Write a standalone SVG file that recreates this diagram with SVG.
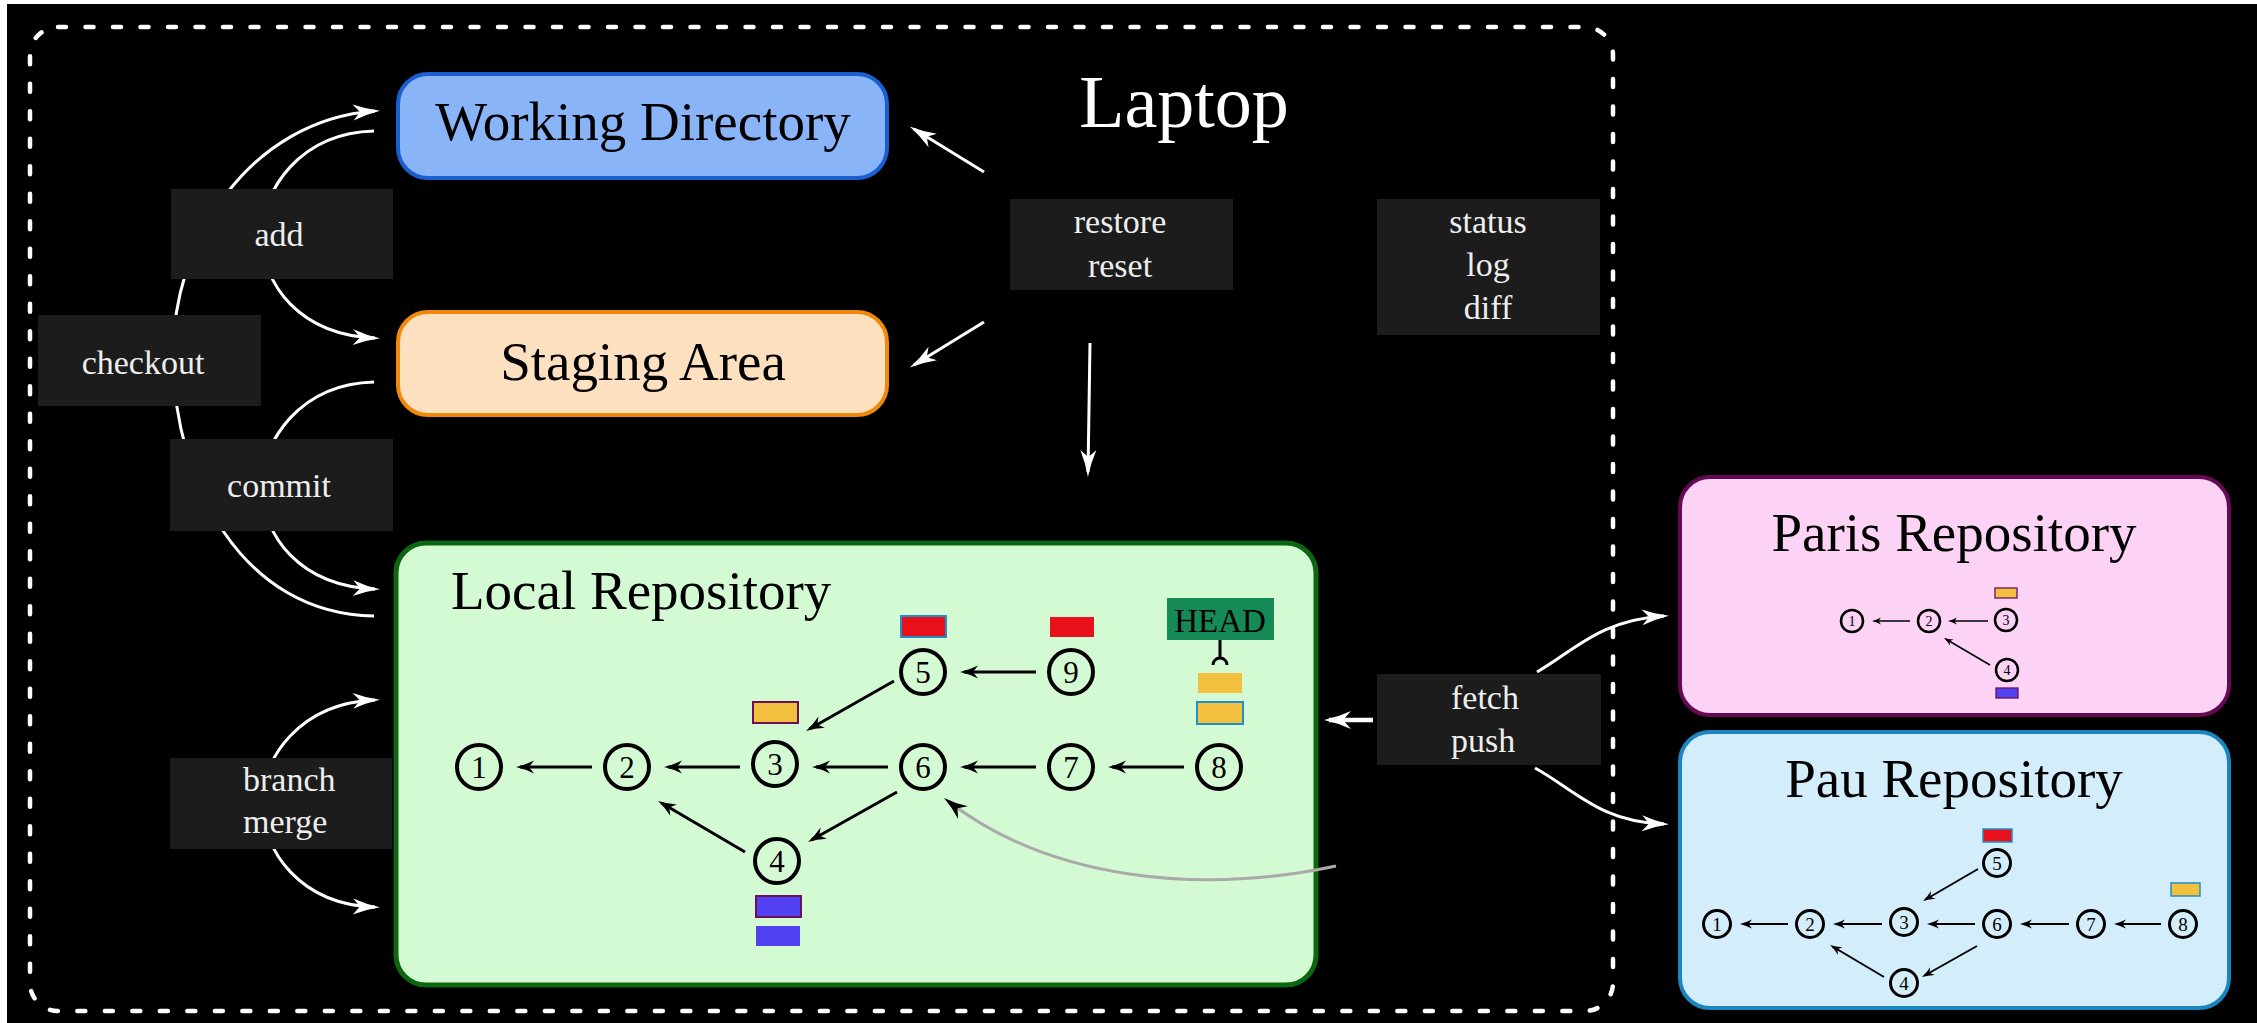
<svg xmlns="http://www.w3.org/2000/svg" width="2257" height="1023" viewBox="0 0 2257 1023">
<style>
.title{font-family:"Liberation Serif","Times New Roman",serif;fill:#000;text-anchor:middle}
.lbl{font-family:"Liberation Serif","Times New Roman",serif;font-size:34px;fill:#eeeeee}
.lblbox{fill:#1c1c1c}
.wl{fill:none;stroke:#fff;stroke-width:3}
.bl{fill:none;stroke:#000;stroke-width:3}
.nd{fill:none;stroke:#000;stroke-width:4}
.ndp{fill:none;stroke:#000;stroke-width:2.5}
.ndu{fill:none;stroke:#000;stroke-width:3}
.dg{font-family:"Liberation Serif","Times New Roman",serif;fill:#000;text-anchor:middle}
.red{fill:#e8101a}
.yel{fill:#f2bf3f}
.blu{fill:#5141f0}
.bpau{stroke:#1e8fc8;stroke-width:2}
.bpar{stroke:#6b0f5a;stroke-width:2}
</style>
<defs>
<marker id="aw" markerUnits="userSpaceOnUse" viewBox="-30 -10 32 20" refX="-5" refY="0" markerWidth="32" markerHeight="20" orient="auto-start-reverse">
<path d="M0,0 Q-14,-2.5 -27,-8 L-20,0 L-27,8 Q-14,2.5 0,0Z" fill="#fff"/>
</marker>
<marker id="awb" markerUnits="userSpaceOnUse" viewBox="-30 -10 32 20" refX="-5" refY="0" markerWidth="32" markerHeight="20" orient="auto">
<path d="M0,0 Q-14,-3 -27,-9 L-19,0 L-27,9 Q-14,3 0,0Z" fill="#fff"/>
</marker>
<marker id="ab" markerUnits="userSpaceOnUse" viewBox="-22 -8 24 16" refX="-4" refY="0" markerWidth="24" markerHeight="16" orient="auto">
<path d="M0,0 Q-9,-2 -18,-6.5 L-13,0 L-18,6.5 Q-9,2 0,0Z" fill="#000"/>
</marker>
<marker id="ag" markerUnits="userSpaceOnUse" viewBox="-28 -10 30 20" refX="-5" refY="0" markerWidth="30" markerHeight="20" orient="auto">
<path d="M0,0 Q-12,-2.5 -24,-8 L-17,0 L-24,8 Q-12,2.5 0,0Z" fill="#000"/>
</marker>
<marker id="ap" markerUnits="userSpaceOnUse" viewBox="-12 -5 14 10" refX="-2" refY="0" markerWidth="14" markerHeight="10" orient="auto">
<path d="M0,0 Q-4.5,-1 -9,-3.5 L-6.5,0 L-9,3.5 Q-4.5,1 0,0Z" fill="#000"/>
</marker>
<marker id="au" markerUnits="userSpaceOnUse" viewBox="-15 -6 17 12" refX="-3" refY="0" markerWidth="17" markerHeight="12" orient="auto">
<path d="M0,0 Q-6,-1.5 -12,-4.5 L-8.5,0 L-12,4.5 Q-6,1.5 0,0Z" fill="#000"/>
</marker>
</defs>

<rect x="0" y="0" width="2257" height="1023" fill="#fff"/>
<rect x="7" y="4" width="2250" height="1019" fill="#000"/>

<g id="laptop">
<rect x="30" y="27" width="1583" height="984" rx="28" fill="none" stroke="#fff" stroke-width="4.5" stroke-dasharray="8 19.5" stroke-linecap="round"/>
<text x="1184" y="127" class="title" style="fill:#fff;font-size:74px">Laptop</text>
</g>

<g id="connectors">
<path class="wl" d="M374,616 C240,614 175,480 173,360 C171,240 250,120 375,111" marker-end="url(#aw)"/>
<path class="wl" d="M374,131 C300,133 262,190 262,235 C262,285 300,335 375,338" marker-end="url(#aw)"/>
<path class="wl" d="M374,382 C300,384 262,441 262,486 C262,536 300,586 375,589" marker-end="url(#aw)"/>
<path class="wl" d="M375,700 C300,703 262,758 262,803 C262,850 300,905 375,907" marker-start="url(#aw)" marker-end="url(#aw)"/>
<path class="wl" d="M984,172 L914,129" marker-end="url(#aw)"/>
<path class="wl" d="M984,322 L914,365" marker-end="url(#aw)"/>
<path class="wl" d="M1090,343 L1088,472" marker-end="url(#aw)"/>
<path class="wl" style="stroke-width:4.5" d="M1373,720 L1329,720" marker-end="url(#awb)"/>
<path class="wl" d="M1537,672 C1575,650 1600,620 1664,616" marker-end="url(#aw)"/>
<path class="wl" d="M1535,768 C1575,790 1600,822 1664,824" marker-end="url(#aw)"/>
</g>

<g id="working-directory">
<rect x="398" y="74" width="489" height="104" rx="30" fill="#8ab4f8" stroke="#1a5fd0" stroke-width="4"/>
<text x="643" y="140" class="title" style="font-size:55px">Working Directory</text>
</g>

<g id="staging-area">
<rect x="398" y="312" width="489" height="103" rx="30" fill="#fde0c0" stroke="#f0880a" stroke-width="4"/>
<text x="643" y="380" class="title" style="font-size:55px">Staging Area</text>
</g>

<g id="local-repository">
<rect x="396" y="543" width="920" height="442" rx="30" fill="#d4fad4" stroke="#0c6612" stroke-width="5"/>
<text x="451" y="609" class="title" style="font-size:55px;text-anchor:start">Local Repository</text>
<g id="local-commits">
<circle cx="479" cy="767" r="22" class="nd"/><text x="479" y="778" class="dg" style="font-size:31px">1</text>
<circle cx="627" cy="767" r="22" class="nd"/><text x="627" y="778" class="dg" style="font-size:31px">2</text>
<circle cx="775" cy="764" r="22" class="nd"/><text x="775" y="775" class="dg" style="font-size:31px">3</text>
<circle cx="777" cy="861" r="22" class="nd"/><text x="777" y="872" class="dg" style="font-size:31px">4</text>
<circle cx="923" cy="672" r="22" class="nd"/><text x="923" y="683" class="dg" style="font-size:31px">5</text>
<circle cx="923" cy="767" r="22" class="nd"/><text x="923" y="778" class="dg" style="font-size:31px">6</text>
<circle cx="1071" cy="767" r="22" class="nd"/><text x="1071" y="778" class="dg" style="font-size:31px">7</text>
<circle cx="1219" cy="767" r="22" class="nd"/><text x="1219" y="778" class="dg" style="font-size:31px">8</text>
<circle cx="1071" cy="672" r="22" class="nd"/><text x="1071" y="683" class="dg" style="font-size:31px">9</text>
</g>
<rect x="901" y="616" width="45" height="21" class="red bpau"/>
<rect x="1050" y="617" width="44" height="20" class="red"/>
<rect x="753" y="702" width="45" height="21" class="yel bpar"/>
<rect x="756" y="896" width="45" height="21" class="blu bpar"/>
<rect x="756" y="926" width="44" height="20" class="blu"/>
<rect x="1198" y="673" width="44" height="20" class="yel"/>
<rect x="1197" y="702" width="46" height="22" class="yel bpau"/>
</g>

<g id="head">
<rect x="1167" y="598" width="107" height="42" fill="#168a56"/>
<text x="1220" y="632" class="title" style="font-size:33px">HEAD</text>
<path d="M1220,640 L1220,658 M1213,665 A7,7 0 0 1 1227,665" fill="none" stroke="#000" stroke-width="3"/>
</g>

<g id="paris-repository">
<rect x="1680" y="477" width="549" height="238" rx="30" fill="#fcd3f5" stroke="#650a52" stroke-width="4"/>
<text x="1954" y="551" class="title" style="font-size:55px">Paris Repository</text>
<circle cx="1852" cy="621" r="11" class="ndp"/><text x="1852" y="626" class="dg" style="font-size:14px">1</text>
<circle cx="1929" cy="621" r="11" class="ndp"/><text x="1929" y="626" class="dg" style="font-size:14px">2</text>
<circle cx="2006" cy="620" r="11" class="ndp"/><text x="2006" y="625" class="dg" style="font-size:14px">3</text>
<circle cx="2007" cy="670" r="11" class="ndp"/><text x="2007" y="675" class="dg" style="font-size:14px">4</text>
<rect x="1995" y="588" width="22" height="10" class="yel" stroke="#6b0f5a" stroke-width="1.3"/>
<rect x="1996" y="688" width="22" height="10" class="blu" stroke="#6b0f5a" stroke-width="1.3"/>
<g fill="none" stroke="#000" stroke-width="1.5">
<path d="M1910,621 L1874,621" marker-end="url(#ap)"/>
<path d="M1988,621 L1950,621" marker-end="url(#ap)"/>
<path d="M1990,665 L1945.7,639" marker-end="url(#ap)"/>
</g>
</g>

<g id="pau-repository">
<rect x="1680" y="732" width="549" height="276" rx="30" fill="#d3eefa" stroke="#1a86c0" stroke-width="4"/>
<text x="1954" y="797" class="title" style="font-size:55px">Pau Repository</text>
<circle cx="1717" cy="924" r="13.5" class="ndu"/><text x="1717" y="931" class="dg" style="font-size:19px">1</text>
<circle cx="1810" cy="924" r="13.5" class="ndu"/><text x="1810" y="931" class="dg" style="font-size:19px">2</text>
<circle cx="1904" cy="922" r="13.5" class="ndu"/><text x="1904" y="929" class="dg" style="font-size:19px">3</text>
<circle cx="1904" cy="983" r="13.5" class="ndu"/><text x="1904" y="990" class="dg" style="font-size:19px">4</text>
<circle cx="1997" cy="863" r="13.5" class="ndu"/><text x="1997" y="870" class="dg" style="font-size:19px">5</text>
<circle cx="1997" cy="924" r="13.5" class="ndu"/><text x="1997" y="931" class="dg" style="font-size:19px">6</text>
<circle cx="2091" cy="924" r="13.5" class="ndu"/><text x="2091" y="931" class="dg" style="font-size:19px">7</text>
<circle cx="2183" cy="924" r="13.5" class="ndu"/><text x="2183" y="931" class="dg" style="font-size:19px">8</text>
<rect x="1983" y="829" width="29" height="13" class="red" stroke="#1e8fc8" stroke-width="1.5"/>
<rect x="2171" y="883" width="29" height="13" class="yel" stroke="#1e8fc8" stroke-width="1.5"/>
<g fill="none" stroke="#000" stroke-width="2">
<path d="M1788,924 L1743,924" marker-end="url(#au)"/>
<path d="M1882,924 L1836,924" marker-end="url(#au)"/>
<path d="M1975,924 L1930,924" marker-end="url(#au)"/>
<path d="M2069,924 L2023,924" marker-end="url(#au)"/>
<path d="M2161,924 L2117,924" marker-end="url(#au)"/>
<path d="M1978,869 L1925.6,899.5" marker-end="url(#au)"/>
<path d="M1977,946 L1924.6,975.5" marker-end="url(#au)"/>
<path d="M1884,977 L1832.6,946.5" marker-end="url(#au)"/>
</g>
</g>

<g id="commit-edges">
<path class="bl" d="M592,767 L520,767" marker-end="url(#ab)"/>
<path class="bl" d="M740,767 L668,767" marker-end="url(#ab)"/>
<path class="bl" d="M888,767 L816,767" marker-end="url(#ab)"/>
<path class="bl" d="M1036,767 L964,767" marker-end="url(#ab)"/>
<path class="bl" d="M1184,767 L1112,767" marker-end="url(#ab)"/>
<path class="bl" d="M1036,672 L964,672" marker-end="url(#ab)"/>
<path class="bl" d="M894,681 L809.5,729" marker-end="url(#ab)"/>
<path class="bl" d="M897,792 L811.5,840" marker-end="url(#ab)"/>
<path class="bl" d="M745,852 L661.5,803" marker-end="url(#ab)"/>
<path d="M1336,866 C1200,895 1050,880 948,801" fill="none" stroke="#aaaaaa" stroke-width="3" marker-end="url(#ag)"/>
</g>

<g id="label-add"><rect x="171" y="189" width="222" height="90" class="lblbox"/><text x="279" y="246" class="lbl" text-anchor="middle">add</text></g>
<g id="label-checkout"><rect x="38" y="315" width="223" height="91" class="lblbox"/><text x="143" y="374" class="lbl" text-anchor="middle">checkout</text></g>
<g id="label-commit"><rect x="170" y="439" width="223" height="92" class="lblbox"/><text x="279" y="497" class="lbl" text-anchor="middle">commit</text></g>
<g id="label-branch-merge"><rect x="170" y="758" width="222" height="91" class="lblbox"/><text x="243" y="791" class="lbl">branch</text><text x="243" y="833" class="lbl">merge</text></g>
<g id="label-restore-reset"><rect x="1010" y="199" width="223" height="91" class="lblbox"/><text x="1120" y="233" class="lbl" text-anchor="middle">restore</text><text x="1120" y="277" class="lbl" text-anchor="middle">reset</text></g>
<g id="label-status-log-diff"><rect x="1377" y="199" width="223" height="136" class="lblbox"/><text x="1488" y="233" class="lbl" text-anchor="middle">status</text><text x="1488" y="276" class="lbl" text-anchor="middle">log</text><text x="1488" y="319" class="lbl" text-anchor="middle">diff</text></g>
<g id="label-fetch-push"><rect x="1377" y="674" width="224" height="91" class="lblbox"/><text x="1451" y="709" class="lbl">fetch</text><text x="1451" y="752" class="lbl">push</text></g>
</svg>
